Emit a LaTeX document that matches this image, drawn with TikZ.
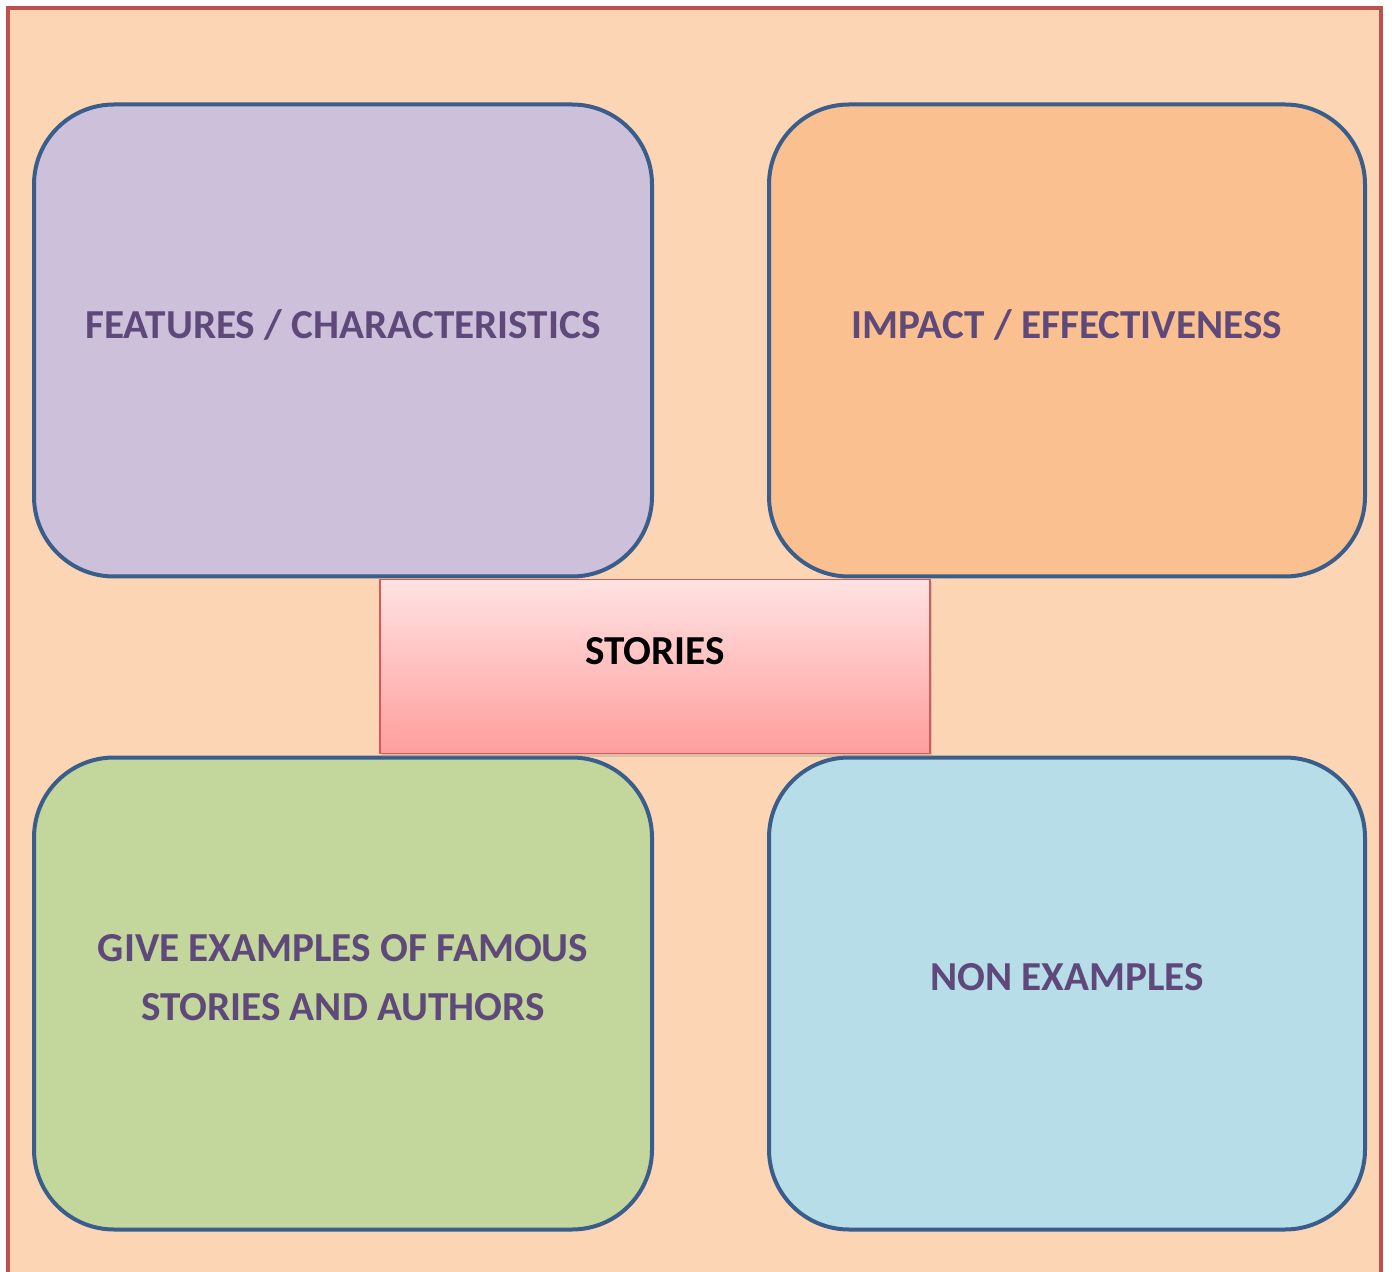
\documentclass[tikz,border=0pt]{standalone}
\usepackage{fontspec}
\setmainfont{Carlito}
\usetikzlibrary{positioning,shadows}

\definecolor{pagebg}{HTML}{FCD5B5}
\definecolor{framered}{HTML}{C0504D}
\definecolor{boxline}{HTML}{3A5E8C}
\definecolor{lilac}{HTML}{CCC0DA}
\definecolor{apricot}{HTML}{FAC090}
\definecolor{sage}{HTML}{C3D69B}
\definecolor{skyblue}{HTML}{B7DEE8}
\definecolor{topicpurple}{HTML}{5F497A}
\definecolor{storyred}{HTML}{D9595A}
\definecolor{storytop}{HTML}{FFE2E2}
\definecolor{storybottom}{HTML}{FF9E9C}

\begin{document}
\begin{tikzpicture}[
        x=0.5pt, y=-0.5pt,
        topicbox/.style={
            draw = boxline,
            line width = 2pt,
            rounded corners = 40pt,
            minimum width = 309pt,
            minimum height = 236pt,
            inner sep = 0pt
        },
        topictext/.style={
            text = topicpurple,
            font = \fontsize{20.6}{29.5}\selectfont\bfseries,
            align = center
        },
        centrebox/.style={
            draw = storyred,
            line width = 0.75pt,
            top color = storytop,
            bottom color = storybottom,
            minimum width = 275pt,
            minimum height = 87pt,
            inner sep = 0pt,
            drop shadow = {opacity=0.25, shadow xshift=1pt, shadow yshift=-1.5pt}
        },
    ]

    \useasboundingbox (0,0) rectangle (1392,1272);
    \fill[pagebg] (8,8) rectangle (1381,1272);
    \draw[framered, line width=2pt] (8,1272) -- (8,8) -- (1381,8) -- (1381,1272);

    \node[topicbox, fill=lilac] (features) at (343,340.5) {};
    \node[topicbox, fill=apricot, minimum width=298pt] (impact) at (1067,340.5) {};
    \node[topicbox, fill=sage] (examples) at (343,993.5) {};
    \node[topicbox, fill=skyblue, minimum width=298pt] (nonexamples) at (1067,993.5) {};

    \node[topictext] (featurestext) at ([yshift=8pt]features.center) {FEATURES / CHARACTERISTICS};
    \node[topictext] (impacttext) at ([yshift=8pt]impact.center) {IMPACT / EFFECTIVENESS};
    \node[topictext] (examplestext) at ([yshift=8pt]examples.center) {GIVE EXAMPLES OF FAMOUS\\STORIES AND AUTHORS};
    \node[topictext] (nonexamplestext) at ([yshift=8pt]nonexamples.center) {NON EXAMPLES};

    \node[centrebox] (stories) at (655,666.5) {};
    \node[topictext, text=black] (storiestext) at ([yshift=7.5pt]stories.center) {STORIES};

\end{tikzpicture}
\end{document}
